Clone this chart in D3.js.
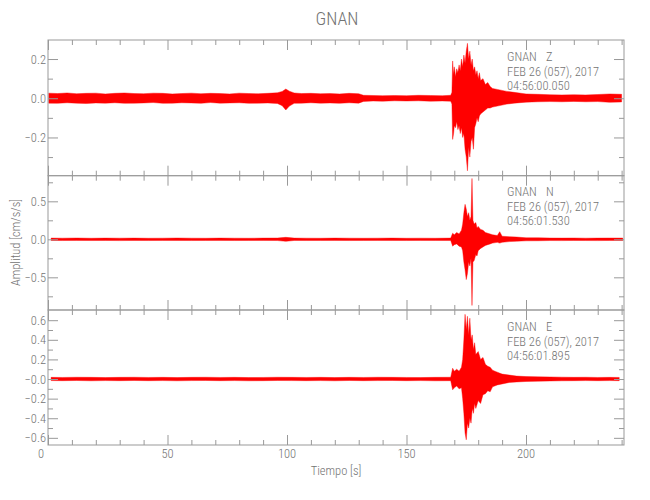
<!DOCTYPE html>
<html>
<head>
<meta charset="utf-8">
<script src="https://cdn.jsdelivr.net/npm/d3@7"></script>
<style>
  html, body { margin: 0; padding: 0; background: #fff; }
  text { font-family: "Liberation Sans Narrow", "Roboto Condensed", "DejaVu Sans Condensed", "Liberation Sans", sans-serif; font-weight: 300; fill: #737373; }
</style>
</head>
<body>
<svg id="chart" width="650" height="500"></svg>
<script>
// ---------------- DATA ----------------
const title = "GNAN";
const station = "GNAN";
const components = ["Z", "N", "E"];
const dateLabel = "FEB 26 (057), 2017";
const startTimes = ["04:56:00.050", "04:56:01.530", "04:56:01.895"];
const xLabel = "Tiempo [s]";
const yLabel = "Amplitud [cm/s/s]";
const xDomain = [0, 241];
const xMajorTicks = [0, 50, 100, 150, 200];
const xMinorTicks = [10, 20, 30, 40, 60, 70, 80, 90, 110, 120, 130, 140, 160, 170, 180, 190, 210, 220, 230, 240];

const zDomain = [-0.395, 0.297];
const nDomain = [-0.93, 0.837];
const eDomain = [-0.673, 0.704];
const zMajorTicks = [-0.2, 0.0, 0.2];
const zMinorTicks = [-0.3, -0.1, 0.1];
const zTickLabels = ["\u22120.2", "0.0", "0.2"];
const nMajorTicks = [-0.5, 0.0, 0.5];
const nMinorTicks = [-0.75, -0.25, 0.25, 0.75];
const nTickLabels = ["\u22120.5", "0.0", "0.5"];
const eMajorTicks = [-0.6, -0.4, -0.2, 0.0, 0.2, 0.4, 0.6];
const eMinorTicks = [-0.5, -0.3, -0.1, 0.1, 0.3, 0.5];
const eTickLabels = ["\u22120.6", "\u22120.4", "\u22120.2", "\u22120.0", "0.2", "0.4", "0.6"];

// Trace envelopes (upper / lower amplitude)
const zTime = [0.3, 4, 8, 12, 16, 20, 24, 28, 32, 36, 40, 44, 48, 52, 56, 60, 64, 68, 72, 76, 80, 84, 88, 92, 96, 98, 99.5, 101, 103, 106, 110, 114, 118, 122, 126, 130, 132, 136, 140, 145, 150, 155, 160, 165, 168.5,
  169.0, 169.3, 169.7, 170.0, 170.5, 171.0, 171.5, 172.0, 172.5, 173.0, 173.5, 174.0, 174.5, 175.0, 175.5, 176.0, 176.5, 177.0, 177.5, 178.0, 178.5, 179.0, 179.5, 180.0, 180.5, 181.0, 182.0, 183.0, 184.0, 185.0, 186.0, 188.0, 190.0, 192.0, 195.0, 200.0,
  205, 210, 215, 220, 225, 230, 235, 240];
const zHigh = [0.026, 0.024, 0.027, 0.023, 0.025, 0.026, 0.022, 0.025, 0.027, 0.024, 0.023, 0.026, 0.025, 0.022, 0.024, 0.026, 0.023, 0.025, 0.024, 0.022, 0.026, 0.024, 0.023, 0.025, 0.028, 0.035, 0.047, 0.036, 0.027, 0.024, 0.025, 0.023, 0.024, 0.022, 0.025, 0.023, 0.015, 0.014, 0.013, 0.014, 0.013, 0.015, 0.014, 0.013, 0.015,
  0.03, 0.19, 0.12, 0.16, 0.11, 0.15, 0.13, 0.17, 0.14, 0.20, 0.16, 0.22, 0.18, 0.24, 0.28, 0.20, 0.24, 0.17, 0.20, 0.14, 0.16, 0.12, 0.14, 0.10, 0.13, 0.09, 0.10, 0.07, 0.08, 0.06, 0.05, 0.045, 0.04, 0.035, 0.03, 0.022,
  0.02, 0.018, 0.017, 0.018, 0.017, 0.019, 0.022, 0.02];
const zLow = [-0.025, -0.026, -0.023, -0.025, -0.027, -0.024, -0.025, -0.023, -0.026, -0.025, -0.024, -0.022, -0.026, -0.025, -0.023, -0.024, -0.026, -0.022, -0.025, -0.024, -0.023, -0.026, -0.025, -0.024, -0.027, -0.038, -0.06, -0.04, -0.026, -0.025, -0.023, -0.025, -0.024, -0.026, -0.023, -0.025, -0.016, -0.014, -0.015, -0.013, -0.014, -0.013, -0.015, -0.014, -0.015,
  -0.03, -0.21, -0.18, -0.14, -0.15, -0.12, -0.16, -0.14, -0.18, -0.15, -0.20, -0.18, -0.26, -0.30, -0.37, -0.25, -0.30, -0.22, -0.20, -0.26, -0.15, -0.13, -0.10, -0.12, -0.09, -0.08, -0.07, -0.06, -0.05, -0.05, -0.045, -0.04, -0.035, -0.03, -0.025, -0.02,
  -0.018, -0.017, -0.018, -0.016, -0.018, -0.017, -0.021, -0.019];

const nTime = [1.3, 6, 12, 18, 24, 30, 36, 42, 48, 54, 60, 66, 72, 78, 84, 90, 96, 99.5, 103, 108, 114, 120, 126, 132, 138, 144, 150, 156, 162, 168.5,
  169.3, 170.0, 171.0, 172.0, 173.0, 173.5, 174.0, 174.5, 175.0, 175.5, 176.0, 176.5, 177.0, 177.4, 177.8, 178.3, 179.0, 179.5, 180.0, 181.0, 182.0, 183.0, 184.0, 185.0, 186.0, 188.0, 189.0, 190.0, 193.0, 196.0, 200.0,
  205, 210, 215, 220, 225, 230, 235, 240.5];
const nHigh = [0.016, 0.015, 0.017, 0.014, 0.016, 0.015, 0.016, 0.014, 0.015, 0.017, 0.015, 0.014, 0.016, 0.015, 0.014, 0.016, 0.017, 0.026, 0.016, 0.015, 0.014, 0.016, 0.015, 0.014, 0.015, 0.016, 0.014, 0.015, 0.014, 0.016,
  0.08, 0.06, 0.09, 0.07, 0.12, 0.20, 0.35, 0.46, 0.40, 0.30, 0.35, 0.25, 0.30, 0.80, 0.25, 0.20, 0.22, 0.15, 0.17, 0.13, 0.12, 0.09, 0.08, 0.07, 0.06, 0.05, 0.10, 0.04, 0.035, 0.03, 0.02,
  0.02, 0.017, 0.016, 0.017, 0.015, 0.016, 0.017, 0.016];
const nLow = [-0.015, -0.016, -0.014, -0.016, -0.015, -0.017, -0.015, -0.016, -0.014, -0.015, -0.016, -0.015, -0.014, -0.016, -0.015, -0.014, -0.016, -0.027, -0.015, -0.016, -0.015, -0.014, -0.016, -0.015, -0.014, -0.015, -0.016, -0.014, -0.015, -0.016,
  -0.09, -0.07, -0.06, -0.09, -0.10, -0.15, -0.30, -0.40, -0.53, -0.45, -0.30, -0.35, -0.25, -0.87, -0.30, -0.28, -0.20, -0.22, -0.15, -0.12, -0.10, -0.08, -0.07, -0.06, -0.05, -0.04, -0.05, -0.04, -0.03, -0.025, -0.02,
  -0.019, -0.016, -0.017, -0.015, -0.016, -0.017, -0.015, -0.016];

const eTime = [1.3, 6, 12, 18, 24, 30, 36, 42, 48, 54, 60, 66, 72, 78, 84, 90, 96, 102, 108, 114, 120, 126, 132, 138, 144, 150, 156, 162, 168.5,
  169.3, 170.0, 171.0, 172.0, 173.0, 173.5, 174.0, 174.5, 175.0, 175.5, 176.0, 176.5, 177.0, 177.5, 178.0, 178.5, 179.0, 180.0, 181.0, 182.0, 183.0, 184.0, 185.0, 186.0, 188.0, 190.0, 193.0, 196.0, 200.0,
  205, 210, 215, 220, 225, 230, 235, 239];
const eHigh = [0.017, 0.016, 0.018, 0.017, 0.015, 0.017, 0.018, 0.016, 0.017, 0.015, 0.017, 0.018, 0.016, 0.017, 0.015, 0.016, 0.018, 0.017, 0.016, 0.017, 0.015, 0.017, 0.016, 0.018, 0.017, 0.016, 0.015, 0.017, 0.018,
  0.11, 0.08, 0.10, 0.08, 0.12, 0.20, 0.40, 0.66, 0.50, 0.64, 0.45, 0.62, 0.40, 0.45, 0.30, 0.37, 0.25, 0.28, 0.20, 0.22, 0.15, 0.13, 0.12, 0.09, 0.07, 0.05, 0.04, 0.03, 0.025,
  0.022, 0.021, 0.019, 0.017, 0.018, 0.016, 0.017, 0.016];
const eLow = [-0.016, -0.017, -0.015, -0.018, -0.016, -0.017, -0.015, -0.017, -0.016, -0.018, -0.016, -0.015, -0.017, -0.016, -0.018, -0.017, -0.015, -0.016, -0.017, -0.016, -0.018, -0.015, -0.017, -0.016, -0.015, -0.017, -0.016, -0.018, -0.017,
  -0.11, -0.09, -0.07, -0.10, -0.09, -0.20, -0.35, -0.55, -0.62, -0.45, -0.50, -0.40, -0.45, -0.30, -0.35, -0.25, -0.30, -0.22, -0.25, -0.16, -0.15, -0.12, -0.13, -0.08, -0.06, -0.05, -0.035, -0.03, -0.025,
  -0.022, -0.02, -0.018, -0.017, -0.016, -0.017, -0.016, -0.017];

// ---------------- LAYOUT ----------------
const svg = d3.select("#chart");
const left = 48, right = 624;
const panelTops = [40, 175.7, 310];
const panelBottoms = [175.7, 310, 445];
const axisColor = "#999999";
const traceColor = "#ff0000";

const x = d3.scaleLinear().domain(xDomain).range([left, right]);

const panels = [
  { comp: components[0], start: startTimes[0], domain: zDomain, major: zMajorTicks, minor: zMinorTicks, labels: zTickLabels, t: zTime, hi: zHigh, lo: zLow },
  { comp: components[1], start: startTimes[1], domain: nDomain, major: nMajorTicks, minor: nMinorTicks, labels: nTickLabels, t: nTime, hi: nHigh, lo: nLow },
  { comp: components[2], start: startTimes[2], domain: eDomain, major: eMajorTicks, minor: eMinorTicks, labels: eTickLabels, t: eTime, hi: eHigh, lo: eLow }
];

// title
svg.append("text").attr("x", (left + right) / 2 + 1).attr("y", 25)
  .attr("text-anchor", "middle").attr("font-size", 18).text(title);

panels.forEach((p, i) => {
  const top = panelTops[i], bottom = panelBottoms[i];
  const y = d3.scaleLinear().domain(p.domain).range([bottom, top]);
  const g = svg.append("g");

  const clipId = "clip" + i;
  svg.append("clipPath").attr("id", clipId).append("rect")
    .attr("x", left).attr("y", top).attr("width", right - left).attr("height", bottom - top);

  // trace
  const pts = p.t.map((t, k) => ({ t, hi: p.hi[k], lo: p.lo[k] }));
  const area = d3.area().x(d => x(d.t)).y0(d => y(d.lo)).y1(d => y(d.hi)).curve(d3.curveLinear);
  g.append("path").datum(pts).attr("d", area)
    .attr("fill", traceColor).attr("stroke", traceColor).attr("stroke-width", 0.7)
    .attr("stroke-opacity", 0.6)
    .attr("clip-path", `url(#${clipId})`);

  // axes: left (labels) and right (no labels), ticks inward
  const yLeft = d3.axisRight(y).tickValues(p.major).tickSize(10).tickFormat("");
  const yLeftMinor = d3.axisRight(y).tickValues(p.minor).tickSize(5).tickFormat("");
  const yRight = d3.axisLeft(y).tickValues(p.major).tickSize(10).tickFormat("");
  const yRightMinor = d3.axisLeft(y).tickValues(p.minor).tickSize(5).tickFormat("");
  const xTop = d3.axisBottom(x).tickValues(xMajorTicks).tickSize(10).tickFormat("");
  const xTopMinor = d3.axisBottom(x).tickValues(xMinorTicks).tickSize(5).tickFormat("");
  const xBot = d3.axisTop(x).tickValues(xMajorTicks).tickSize(10).tickFormat("");
  const xBotMinor = d3.axisTop(x).tickValues(xMinorTicks).tickSize(5).tickFormat("");

  const axes = [
    [yLeft, `translate(${left},0)`], [yLeftMinor, `translate(${left},0)`],
    [yRight, `translate(${right},0)`], [yRightMinor, `translate(${right},0)`],
    [xTop, `translate(0,${top})`], [xTopMinor, `translate(0,${top})`],
    [xBot, `translate(0,${bottom})`], [xBotMinor, `translate(0,${bottom})`]
  ];
  axes.forEach(([ax, tr]) => {
    const a = g.append("g").attr("transform", tr).call(ax.tickSizeOuter(0));
    a.selectAll("path.domain").remove();
    a.selectAll("line").attr("stroke", axisColor).attr("stroke-width", 1);
  });

  // frame
  g.append("rect").attr("x", left).attr("y", top).attr("width", right - left).attr("height", bottom - top)
    .attr("fill", "none").attr("stroke", axisColor).attr("stroke-width", 1);

  // y tick labels
  g.selectAll("text.ylab").data(p.major).enter().append("text")
    .attr("class", "ylab")
    .attr("x", left - 2).attr("y", d => y(d)).attr("dy", "0.36em")
    .attr("text-anchor", "end").attr("font-size", 12.5)
    .text((d, k) => p.labels[k]);

  // annotation
  const ay = [61, 196, 331][i];
  g.append("text").attr("x", 507).attr("y", ay).attr("font-size", 12.5).text(station);
  g.append("text").attr("x", 546).attr("y", ay).attr("font-size", 12.5).text(p.comp);
  g.append("text").attr("x", 507).attr("y", ay + 14.7).attr("font-size", 12.5).text(dateLabel);
  g.append("text").attr("x", 507).attr("y", ay + 29).attr("font-size", 12.5).text(p.start);
});

// x tick labels at bottom
svg.selectAll("text.xlab").data(xMajorTicks).enter().append("text")
  .attr("class", "xlab")
  .attr("x", d => x(d) + (d === 0 ? -7 : 0)).attr("y", 457.5)
  .attr("text-anchor", "middle").attr("font-size", 12.5)
  .text(d => d3.format("d")(d));

// axis titles
svg.append("text").attr("x", (left + right) / 2).attr("y", 475)
  .attr("text-anchor", "middle").attr("font-size", 12.5).text(xLabel);
svg.append("text").attr("transform", `translate(20,${(panelTops[0] + panelBottoms[2]) / 2}) rotate(-90)`)
  .attr("text-anchor", "middle").attr("font-size", 12.5).text(yLabel);
</script>
</body>
</html>
